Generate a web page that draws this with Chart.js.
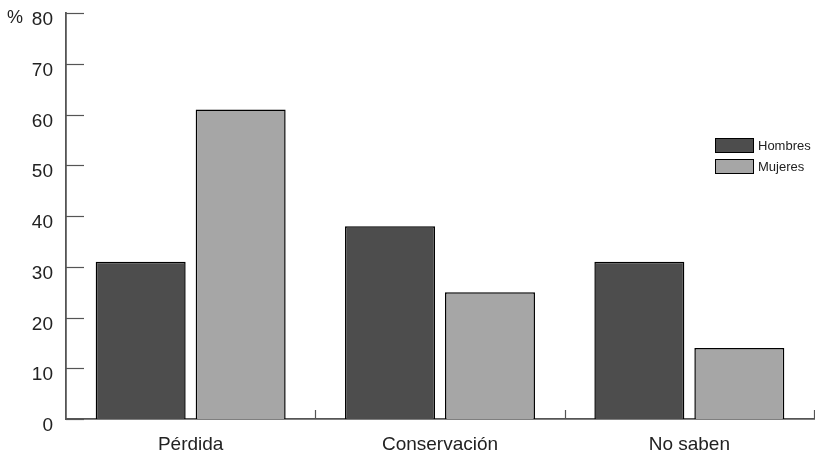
<!DOCTYPE html>
<html>
<head>
<meta charset="utf-8">
<script src="https://cdn.jsdelivr.net/npm/chart.js@4"></script>
<style>
  html, body { margin: 0; padding: 0; background: #fff; }
  #wrap { width: 815px; height: 458px; position: relative; }
</style>
</head>
<body>
<div id="wrap"><canvas id="chart"></canvas></div>
<script>
// data
var categories = ["Pérdida", "Conservación", "No saben"];
var hombres = [31, 38, 31];
var mujeres = [61, 25, 14];
var yTicks = [0, 10, 20, 30, 40, 50, 60, 70, 80];

var axisColor = "#555";
var fontFam = "'Liberation Sans', Arial, sans-serif";

// inward tick marks, the "%" sign and the legend box
var extras = {
  id: "extras",
  afterDraw: function(chart) {
    var ctx = chart.ctx;
    var y = chart.scales.y, x = chart.scales.x;
    var area = chart.chartArea;
    ctx.save();
    ctx.strokeStyle = axisColor;
    ctx.lineWidth = 1.2;
    y.ticks.forEach(function(t) {
      var py = Math.round(y.getPixelForValue(t.value)) + 0.5;
      ctx.beginPath();
      ctx.moveTo(area.left, py);
      ctx.lineTo(area.left + 18, py);
      ctx.stroke();
    });
    for (var i = 0; i < categories.length; i++) {
      var px = i < categories.length - 1
        ? (x.getPixelForValue(i) + x.getPixelForValue(i + 1)) / 2
        : area.right - 0.5;
      px = Math.round(px) + 0.5;
      ctx.beginPath();
      ctx.moveTo(px, area.bottom);
      ctx.lineTo(px, area.bottom - 9);
      ctx.stroke();
    }

    ctx.fillStyle = "#222";
    ctx.font = "18px " + fontFam;
    ctx.textAlign = "left";
    ctx.textBaseline = "middle";
    ctx.fillText("%", 7, y.getPixelForValue(80) + 5);

    // legend
    ctx.font = "13px " + fontFam;
    chart.data.datasets.forEach(function(ds, k) {
      var top = 138 + k * 21;
      ctx.fillStyle = ds.backgroundColor;
      ctx.fillRect(715, top, 39, 15);
      ctx.strokeStyle = "#000";
      ctx.lineWidth = 1;
      ctx.strokeRect(715.5, top + 0.5, 38, 14);
      ctx.fillStyle = "#222";
      ctx.fillText(ds.label, 758, top + 8);
    });
    ctx.restore();
  }
};

new Chart(document.getElementById("chart"), {
  type: "bar",
  data: {
    labels: categories,
    datasets: [{
      label: "Hombres",
      data: hombres,
      backgroundColor: "#4d4d4d",
      borderColor: "#000",
      borderWidth: 1.5,
      borderSkipped: "bottom",
      categoryPercentage: 0.802,
      barPercentage: 0.9
    }, {
      label: "Mujeres",
      data: mujeres,
      backgroundColor: "#a6a6a6",
      borderColor: "#000",
      borderWidth: 1.5,
      borderSkipped: "bottom",
      categoryPercentage: 0.802,
      barPercentage: 0.9
    }]
  },
  options: {
    responsive: true,
    maintainAspectRatio: false,
    animation: false,
    layout: { padding: { top: 0, right: 1, left: 0, bottom: 0 } },
    plugins: {
      legend: { display: false },
      tooltip: { enabled: false }
    },
    scales: {
      y: {
        min: 0,
        max: 80,
        afterBuildTicks: function(s) {
          s.ticks = yTicks.map(function(v) { return { value: v }; });
        },
        afterFit: function(s) {
          s.width = 66;
          s.paddingTop = 13;
        },
        grid: { display: false, drawTicks: false },
        border: { display: true, color: axisColor, width: 1.8 },
        ticks: {
          padding: 13,
          labelOffset: 7,
          color: "#222",
          font: { size: 19, family: fontFam }
        }
      },
      x: {
        afterFit: function(s) { s.height = 39; },
        grid: { display: false, drawTicks: false },
        border: { display: true, color: axisColor, width: 1.8 },
        ticks: {
          padding: 14,
          color: "#222",
          font: { size: 19, family: fontFam }
        }
      }
    }
  },
  plugins: [extras]
});
</script>
</body>
</html>
